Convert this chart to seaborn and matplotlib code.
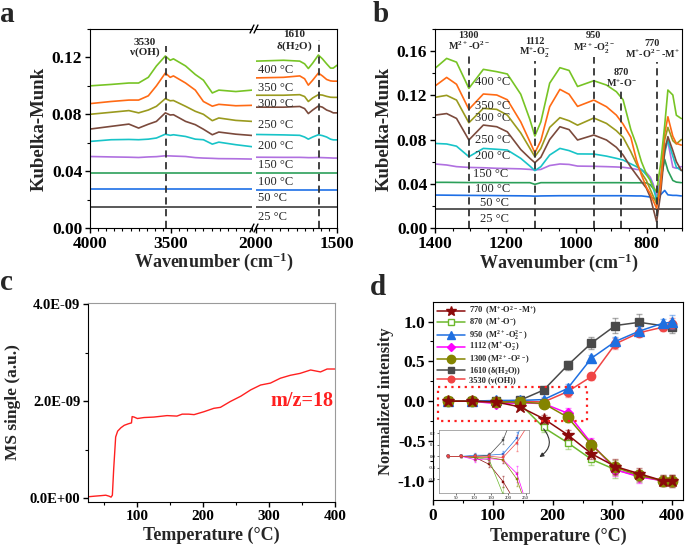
import matplotlib
matplotlib.use("Agg")
import matplotlib.pyplot as plt
import matplotlib.ticker as mticker
import seaborn as sns

sns.set_style("ticks")
plt.rcParams['font.family'] = ['Liberation Serif', 'DejaVu Serif']
plt.rcParams['font.weight'] = 'bold'
plt.rcParams['axes.labelweight'] = 'bold'
plt.rcParams['axes.unicode_minus'] = False
plt.rcParams['mathtext.fontset'] = 'custom'
plt.rcParams['mathtext.rm'] = 'Liberation Serif'
plt.rcParams['mathtext.default'] = 'regular'
plt.rcParams['axes.edgecolor'] = 'black'
plt.rcParams['xtick.color'] = 'black'
plt.rcParams['ytick.color'] = 'black'

# ---------------- data ----------------
temps = ["25", "50", "100", "150", "200", "250", "300", "350", "400"]
colors = ["#3c3c3c", "#1e6fe6", "#2ca05a", "#b070e0", "#18c4c8",
          "#7b4a3c", "#9a9a1e", "#ff6a14", "#77c425"]

# panel a, 4000-3000 cm-1
wn_oh = [4000, 3870, 3760, 3700, 3640, 3590, 3535, 3505, 3485, 3410, 3350, 3300, 3245, 3205, 3100, 3000]
a_oh_25 = [0.0150] * 16
a_oh_50 = [0.0273] * 16
a_oh_100 = [0.0390] * 16
a_oh_150 = [0.0503, 0.0500, 0.0498, 0.0496, 0.0500, 0.0502, 0.0508, 0.0507, 0.0506, 0.0503, 0.0495, 0.0492, 0.0490, 0.0488, 0.0487, 0.0485]
a_oh_200 = [0.0609, 0.0621, 0.0623, 0.0621, 0.0625, 0.0633, 0.0660, 0.0652, 0.0656, 0.0644, 0.0625, 0.0621, 0.0590, 0.0604, 0.0586, 0.0572]
a_oh_250 = [0.0696, 0.0715, 0.0731, 0.0703, 0.0730, 0.0750, 0.0810, 0.0795, 0.0797, 0.0750, 0.0727, 0.0695, 0.0656, 0.0675, 0.0660, 0.0651]
a_oh_300 = [0.0800, 0.0814, 0.0826, 0.0810, 0.0830, 0.0856, 0.0910, 0.0895, 0.0897, 0.0856, 0.0821, 0.0800, 0.0755, 0.0774, 0.0757, 0.0750]
a_oh_350 = [0.0875, 0.0890, 0.0900, 0.0900, 0.0930, 0.1000, 0.1090, 0.1060, 0.1070, 0.1020, 0.0970, 0.0890, 0.0857, 0.0870, 0.0860, 0.0863]
a_oh_400 = [0.1000, 0.1010, 0.1020, 0.1020, 0.1060, 0.1140, 0.1210, 0.1180, 0.1190, 0.1140, 0.1080, 0.1040, 0.0950, 0.0970, 0.0960, 0.0970]

# panel a, 2000-1500 cm-1
wn_hoh = [2000, 1830, 1730, 1700, 1677, 1650, 1615, 1590, 1564, 1540, 1523, 1500]
a_hoh_25 = [0.0150] * 12
a_hoh_50 = [0.0270] * 12
a_hoh_100 = [0.0388] * 12
a_hoh_150 = [0.0498, 0.0497, 0.0497, 0.0496, 0.0495, 0.0495, 0.0496, 0.0495, 0.0494, 0.0493, 0.0492, 0.0492]
a_hoh_200 = [0.0658, 0.0655, 0.0652, 0.0640, 0.0625, 0.0640, 0.0656, 0.0650, 0.0640, 0.0625, 0.0620, 0.0620]
a_hoh_250 = [0.0850, 0.0850, 0.0855, 0.0840, 0.0805, 0.0830, 0.0858, 0.0850, 0.0830, 0.0820, 0.0810, 0.0810]
a_hoh_300 = [0.0934, 0.0934, 0.0938, 0.0925, 0.0890, 0.0915, 0.0938, 0.0935, 0.0926, 0.0920, 0.0919, 0.0919]
a_hoh_350 = [0.1056, 0.1060, 0.1070, 0.1050, 0.1005, 0.1040, 0.1090, 0.1070, 0.1045, 0.1035, 0.1033, 0.1033]
a_hoh_400 = [0.1174, 0.1180, 0.1174, 0.1155, 0.1122, 0.1160, 0.1217, 0.1190, 0.1155, 0.1125, 0.1125, 0.1145]

# panel b, 1400-700 cm-1
wn_b = [1400, 1367, 1339, 1304, 1263, 1225, 1195, 1157, 1131, 1117, 1100, 1075, 1046, 1020, 996, 950,
        914, 886, 867, 845, 829, 815, 801, 790, 782, 772, 761, 749, 740, 726, 716, 702]
b_25 = [0.0169] * 32
b_50 = [0.0298, 0.0297, 0.0296, 0.0295, 0.0294, 0.0293, 0.0292, 0.0291, 0.0290, 0.0288, 0.0290, 0.0291, 0.0292, 0.0292, 0.0292, 0.0292,
        0.0292, 0.0292, 0.0292, 0.0291, 0.0290, 0.0290, 0.0285, 0.0280, 0.0270, 0.0260, 0.0300, 0.0340, 0.0300, 0.0295, 0.0295, 0.0290]
b_100 = [0.0413, 0.0413, 0.0412, 0.0411, 0.0411, 0.0411, 0.0410, 0.0410, 0.0410, 0.0395, 0.0410, 0.0410, 0.0410, 0.0410, 0.0410, 0.0410,
         0.0410, 0.0410, 0.0410, 0.0409, 0.0409, 0.0409, 0.0408, 0.0390, 0.0360, 0.0300, 0.0430, 0.0620, 0.0520, 0.0430, 0.0415, 0.0410]
b_150 = [0.0579, 0.0570, 0.0555, 0.0548, 0.0545, 0.0540, 0.0538, 0.0535, 0.0530, 0.0525, 0.0530, 0.0565, 0.0579, 0.0575, 0.0560, 0.0558,
         0.0555, 0.0552, 0.0549, 0.0540, 0.0530, 0.0525, 0.0500, 0.0460, 0.0400, 0.0283, 0.0450, 0.0750, 0.0780, 0.0550, 0.0540, 0.0555]
b_200 = [0.0765, 0.0760, 0.0740, 0.0645, 0.0720, 0.0712, 0.0705, 0.0630, 0.0560, 0.0519, 0.0555, 0.0660, 0.0720, 0.0700, 0.0670, 0.0669,
         0.0650, 0.0630, 0.0615, 0.0580, 0.0555, 0.0530, 0.0480, 0.0440, 0.0370, 0.0253, 0.0400, 0.0680, 0.0796, 0.0650, 0.0550, 0.0520]
b_250 = [0.1021, 0.1035, 0.0991, 0.0796, 0.0931, 0.0916, 0.0870, 0.0710, 0.0630, 0.0591, 0.0640, 0.0800, 0.0916, 0.0890, 0.0796, 0.0841,
         0.0796, 0.0730, 0.0660, 0.0550, 0.0480, 0.0420, 0.0360, 0.0280, 0.0180, 0.0057, 0.0300, 0.0700, 0.0826, 0.0700, 0.0600, 0.0520]
b_300 = [0.1182, 0.1200, 0.1157, 0.0952, 0.1082, 0.1073, 0.1021, 0.0860, 0.0720, 0.0645, 0.0720, 0.0910, 0.0998, 0.0970, 0.0930, 0.0995,
         0.0946, 0.0880, 0.0820, 0.0690, 0.0580, 0.0500, 0.0430, 0.0350, 0.0290, 0.0220, 0.0400, 0.0800, 0.0910, 0.0790, 0.0760, 0.0800]
b_350 = [0.1284, 0.1362, 0.1300, 0.1073, 0.1212, 0.1203, 0.1160, 0.0960, 0.0780, 0.0680, 0.0790, 0.1097, 0.1254, 0.1210, 0.1100, 0.1157,
         0.1097, 0.1021, 0.0940, 0.0820, 0.0615, 0.0480, 0.0370, 0.0310, 0.0250, 0.0178, 0.0370, 0.0856, 0.1006, 0.0830, 0.0765, 0.0750]
b_400 = [0.1444, 0.1534, 0.1500, 0.1263, 0.1435, 0.1414, 0.1393, 0.1210, 0.0980, 0.0832, 0.0960, 0.1310, 0.1450, 0.1425, 0.1280, 0.1332,
         0.1293, 0.1233, 0.1160, 0.0890, 0.0750, 0.0600, 0.0490, 0.0430, 0.0370, 0.0330, 0.0570, 0.0930, 0.1248, 0.1203, 0.1020, 0.0990]

# panel c, MS m/z=18
ms_temp = [27, 35, 44, 52, 57, 60, 62, 64, 67, 70, 75, 80, 86, 91, 92, 95, 100, 110, 125, 145, 160, 168, 178, 186,
           201, 216, 226, 241, 257, 272, 287, 302, 317, 332, 347, 363, 378, 388, 400]
ms_signal = [0.03, 0.04, 0.05, 0.06, 0.04, 0.02, 0.06, 0.60, 1.26, 1.38, 1.45, 1.50, 1.53, 1.55, 1.68, 1.67, 1.64, 1.66,
             1.67, 1.70, 1.69, 1.73, 1.73, 1.72, 1.78, 1.85, 1.87, 1.99, 2.10, 2.23, 2.33, 2.37, 2.47, 2.53, 2.57, 2.64,
             2.60, 2.66, 2.66]

# panel d, normalized intensity
t_d = [25, 65, 105, 145, 185, 225, 265, 305, 345, 385, 400]
t_1610 = [25, 65, 105, 145, 185, 225, 265, 305, 345, 400]
d_770 = [0, 0, -0.01, -0.07, -0.22, -0.42, -0.66, -0.82, -0.91, -1.0, -1.0]
d_870 = [0, 0, -0.01, -0.03, -0.33, -0.52, -0.73, -0.86, -0.94, -1.0, -1.0]
d_950 = [0, 0, 0.01, 0.01, 0.02, 0.16, 0.54, 0.75, 0.88, 0.98, 0.99]
d_1112 = [0, 0, -0.03, -0.02, -0.03, -0.15, -0.53, -0.86, -0.95, -1.0, -1.0]
d_1300 = [0, 0, -0.01, -0.01, -0.03, -0.20, -0.55, -0.83, -0.93, -1.0, -1.0]
d_1610 = [0, 0, 0, 0.01, 0.14, 0.45, 0.73, 0.95, 0.99, 0.93]
d_3530 = [0, 0, 0, 0, -0.01, 0.12, 0.31, 0.72, 0.86, 0.93, 0.97]
e_770 = [0.01, 0.01, 0.02, 0.02, 0.05, 0.06, 0.06, 0.09, 0.07, 0.06, 0.07]
e_870 = [0.01, 0.01, 0.02, 0.03, 0.06, 0.08, 0.07, 0.10, 0.08, 0.07, 0.08]
e_950 = [0.01, 0.01, 0.02, 0.02, 0.03, 0.05, 0.04, 0.06, 0.06, 0.05, 0.09]
e_1112 = [0.01, 0.01, 0.02, 0.02, 0.03, 0.07, 0.07, 0.08, 0.08, 0.07, 0.08]
e_1300 = [0.01, 0.01, 0.02, 0.02, 0.03, 0.06, 0.06, 0.09, 0.07, 0.07, 0.08]
e_1610 = [0.01, 0.01, 0.02, 0.02, 0.03, 0.06, 0.07, 0.09, 0.10, 0.08]
e_3530 = [0.01, 0.01, 0.02, 0.02, 0.03, 0.07, 0.05, 0.07, 0.06, 0.05, 0.07]

W, H = 685, 548
TICK = 12.5


def box(l, t, r, b):
    return [l / W, 1 - b / H, (r - l) / W, (b - t) / H]


fig = plt.figure(figsize=(W / 100, H / 100), dpi=100)

# ---------------- panel a ----------------
axL = fig.add_axes(box(90, 29, 252, 228))
axR = fig.add_axes(box(256, 29, 337, 228))
oh_curves = [a_oh_25, a_oh_50, a_oh_100, a_oh_150, a_oh_200, a_oh_250, a_oh_300, a_oh_350, a_oh_400]
hoh_curves = [a_hoh_25, a_hoh_50, a_hoh_100, a_hoh_150, a_hoh_200, a_hoh_250, a_hoh_300, a_hoh_350, a_hoh_400]
for c, y1, y2 in zip(colors, oh_curves, hoh_curves):
    sns.lineplot(x=wn_oh, y=y1, ax=axL, color=c, lw=1.2, sort=False)
    sns.lineplot(x=wn_hoh, y=y2, ax=axR, color=c, lw=1.2, sort=False)

for ax in (axL, axR):
    ax.set_ylim(0, 0.14)
    ax.tick_params(labelsize=TICK, length=3.5, width=1, pad=2)
    ax.tick_params(which='minor', length=2, width=0.8)
    ax.set_xlabel('')
    ax.set_ylabel('')
axL.set_xlim(4000, 3000)
axR.set_xlim(2000, 1500)
axL.set_xticks([4000, 3500])
axL.xaxis.set_minor_locator(mticker.MultipleLocator(50))
axR.set_xticks([2000, 1500])
axR.xaxis.set_minor_locator(mticker.MultipleLocator(50))
axL.set_yticks([0, 0.04, 0.08, 0.12])
axL.yaxis.set_minor_locator(mticker.MultipleLocator(0.02))
axL.yaxis.set_major_formatter(mticker.FormatStrFormatter('%.2f'))
axL.spines['right'].set_visible(False)
axR.spines['left'].set_visible(False)
axR.tick_params(axis='y', which='both', left=False, labelleft=False)
axL.set_ylabel('Kubelka-Munk', fontsize=13.5, labelpad=3)

# break marks
for ax, xb, k in ((axL, 1.0, 1), (axR, 0.0, 2)):
    for yb in (0.0, 1.0):
        ax.plot([xb - 0.012 * k, xb + 0.012 * k], [yb - 0.02, yb + 0.02],
                transform=ax.transAxes, color='k', lw=1, clip_on=False)

axL.vlines(3530, 0, 0.128, colors='#333333', linestyles=(0, (4, 2.5)), lw=1.3)
axR.vlines(1610, 0, 0.132, colors='#333333', linestyles=(0, (4, 2.5)), lw=1.3)
axL.text(3660, 0.120, '3530\nν(OH)', ha='center', va='bottom', fontsize=8, linespacing=1.05)
axR.text(1765, 0.123, '1610\nδ(H$_2$O)', ha='center', va='bottom', fontsize=8, linespacing=1.05)

a_label_y = [0.0080, 0.0210, 0.0327, 0.0445, 0.0574, 0.0727, 0.0873, 0.0986, 0.1110]
for t, y in zip(temps, a_label_y):
    axR.text(1986, y, f'{t} °C', ha='left', va='center', fontsize=9, fontweight='normal')

fig.text(213.5 / W, 1 - 262 / H, 'Wavenumber (cm$^{-1}$)', ha='center', va='center', fontsize=13)

# ---------------- panel b ----------------
axb = fig.add_axes(box(435, 29, 682, 228))
b_curves = [b_25, b_50, b_100, b_150, b_200, b_250, b_300, b_350, b_400]
for c, y in zip(colors, b_curves):
    sns.lineplot(x=wn_b, y=y, ax=axb, color=c, lw=1.2, sort=False)
axb.set_xlim(1400, 700)
axb.set_ylim(0, 0.18)
axb.set_xticks([1400, 1200, 1000, 800])
axb.xaxis.set_minor_locator(mticker.MultipleLocator(50))
axb.set_yticks([0, 0.04, 0.08, 0.12, 0.16])
axb.yaxis.set_minor_locator(mticker.MultipleLocator(0.02))
axb.yaxis.set_major_formatter(mticker.FormatStrFormatter('%.2f'))
axb.tick_params(labelsize=TICK, length=3.5, width=1, pad=2)
axb.tick_params(which='minor', length=2, width=0.8)
axb.set_xlabel('Wavenumber (cm$^{-1}$)', fontsize=13, labelpad=0)
axb.set_ylabel('Kubelka-Munk', fontsize=13.5, labelpad=3)

# (line position, line top, text x, text anchor, text y, text)
b_marks = [(1304, 0.157, 1304, 'center', 0.159, '1300\nM$^{2+}$-O$^{2-}$'),
           (1117, 0.151, 1117, 'center', 0.152, '1112\nM$^{+}$-O$_2^{-}$'),
           (950, 0.155, 950, 'center', 0.156, '950\nM$^{2+}$-O$_2^{2-}$'),
           (872, 0.124, 872, 'center', 0.126, '870\nM$^{+}$-O$^{-}$'),
           (772, 0.150, 706, 'right', 0.152, '770\nM$^{+}$-O$^{2-}$-M$^{+}$')]
for x, top, tx, ha, ty, s in b_marks:
    axb.vlines(x, 0, top, colors='#333333', linestyles=(0, (4, 2.5)), lw=1.3)
    axb.text(tx, ty, s, ha=ha, va='bottom', fontsize=7.3, linespacing=1.0, multialignment='center')

b_label_y = [0.0081, 0.0229, 0.0350, 0.0485, 0.0651, 0.0796, 0.0997, 0.1099, 0.1323]
b_label_x = [1273, 1273, 1287, 1292, 1287, 1287, 1287, 1287, 1287]
for t, x, y in zip(temps, b_label_x, b_label_y):
    axb.text(x, y, f'{t} °C', ha='left', va='center', fontsize=9, fontweight='normal')

# ---------------- panel c ----------------
axc = fig.add_axes(box(88, 303, 335, 502))
sns.lineplot(x=ms_temp, y=[v * 1e-9 for v in ms_signal], ax=axc, color='#ff2020', lw=1.0, sort=False)
axc.set_xlim(25, 400)
axc.set_ylim(-0.08e-9, 4.02e-9)
axc.set_xticks([100, 200, 300, 400])
axc.xaxis.set_minor_locator(mticker.MultipleLocator(50))
axc.set_yticks([0, 2e-9, 4e-9])
axc.yaxis.set_minor_locator(mticker.MultipleLocator(1e-9))
axc.yaxis.set_major_formatter(mticker.FuncFormatter(lambda v, p: f'{v:.1E}'))
axc.tick_params(axis='y', labelsize=10.5, length=3.5, width=1, pad=2)
axc.tick_params(axis='x', labelsize=11, length=3.5, width=1, pad=2)
axc.tick_params(which='minor', length=2, width=0.8)
for s in ('top', 'right'):
    axc.spines[s].set_color('#9a9a9a')
axc.set_xlabel('Temperature (°C)', fontsize=13, labelpad=3)
axc.set_ylabel('MS single (a.u.)', fontsize=12.5, labelpad=6)
axc.text(397, 2.0e-9, 'm/z=18', color='#ff2020', ha='right', va='center', fontsize=14.5)

# ---------------- panel d ----------------
axd = fig.add_axes(box(433, 302, 683, 500))
series = [
    ('770  (M$^{+}$-O$^{2-}$-M$^{+}$)', t_d, d_770, e_770, '#8b0a0a', '*', 9, '#8b0a0a'),
    ('870  (M$^{+}$-O$^{-}$)', t_d, d_870, e_870, '#6cb82c', 's', 5, 'white'),
    ('950  (M$^{2+}$-O$_2^{2-}$)', t_d, d_950, e_950, '#1f6fe0', '^', 6.5, '#1f6fe0'),
    ('1112 (M$^{+}$-O$_2^{-}$)', t_d, d_1112, e_1112, '#ff00ff', 'D', 5.5, '#ff00ff'),
    ('1300 (M$^{2+}$-O$^{2-}$)', t_d, d_1300, e_1300, '#848400', 'o', 7.5, '#848400'),
    ('1610 (δ(H$_2$O))', t_1610, d_1610, e_1610, '#4a4a4a', 's', 5.5, '#4a4a4a'),
    ('3530 (ν(OH))', t_d, d_3530, e_3530, '#f04545', 'o', 6, '#f04545'),
]
zorders = [6, 3, 5, 4, 5, 3, 4]
for (lab, tx, vals, err, c, m, ms, fc), z in zip(series, zorders):
    axd.errorbar(tx, vals, yerr=err, fmt='none', ecolor=c, alpha=0.45, elinewidth=0.9, capsize=2, zorder=z - 1)
    sns.lineplot(x=tx, y=vals, ax=axd, color=c, lw=1.1, marker=m, markersize=ms,
                 markerfacecolor=fc, markeredgecolor=c, markeredgewidth=1.0, label=lab, zorder=z, sort=False)
axd.set_xlim(0, 418)
axd.set_ylim(-1.24, 1.245)
axd.set_xticks([0, 100, 200, 300, 400])
axd.xaxis.set_minor_locator(mticker.MultipleLocator(50))
axd.set_yticks([-1.0, -0.5, 0.0, 0.5, 1.0])
axd.yaxis.set_minor_locator(mticker.MultipleLocator(0.25))
axd.yaxis.set_major_formatter(mticker.FormatStrFormatter('%.1f'))
axd.tick_params(labelsize=TICK, length=3.5, width=1, pad=2)
axd.tick_params(which='minor', length=2, width=0.8)
axd.set_xlabel('Temperature (°C)', fontsize=13, labelpad=3)
axd.set_ylabel('Normalized intensity', fontsize=12, labelpad=3)
leg = axd.legend(loc='upper left', bbox_to_anchor=(-0.005, 1.012), frameon=False, fontsize=6,
                 handlelength=3.4, labelspacing=-0.1, handletextpad=0.5, borderaxespad=0.2,
                 markerscale=0.8)
leg.set_zorder(8)

# dotted zoom box and arrow
axd.plot([9, 258, 258, 9, 9], [0.18, 0.18, -0.245, -0.245, 0.18], color='#ff2020', lw=1.6,
         ls=(0, (1, 2)), zorder=7)
axd.annotate('', xy=(174, -0.72), xytext=(182, -0.32),
             arrowprops=dict(arrowstyle='-|>', color='#333333', lw=0.8, mutation_scale=6,
                             connectionstyle='arc3,rad=-0.6'))

# inset
axi = fig.add_axes(box(439, 430, 529, 493))
for (lab, tx, vals, err, c, m, ms, fc), z in zip(series, zorders):
    axi.errorbar(tx, vals, yerr=err, fmt='none', ecolor=c, alpha=0.5, elinewidth=0.5, capsize=0.8)
    sns.lineplot(x=tx, y=vals, ax=axi, color=c, lw=0.5, marker='s', markersize=1.6,
                 markerfacecolor=c, markeredgecolor=c, markeredgewidth=0.3, sort=False)
axi.set_xlim(0, 260)
axi.set_ylim(-0.32, 0.23)
axi.set_xticks([50, 100, 150, 200, 250])
axi.set_yticks([-0.2, -0.1, 0.0, 0.1, 0.2])
axi.yaxis.set_major_formatter(mticker.FormatStrFormatter('%.1f'))
axi.tick_params(labelsize=3.3, length=1.2, width=0.4, pad=1)
for lbl in axi.get_xticklabels() + axi.get_yticklabels():
    lbl.set_fontweight('normal')
for s in axi.spines.values():
    s.set_linewidth(0.5)
    s.set_color('#888888')
axi.set_facecolor('white')

# panel letters
fig.text(0 / W, 1 - 22 / H, 'a', fontsize=21, va='baseline')
fig.text(373 / W, 1 - 22 / H, 'b', fontsize=21, va='baseline')
fig.text(0 / W, 1 - 290 / H, 'c', fontsize=21, va='baseline')
fig.text(370 / W, 1 - 295 / H, 'd', fontsize=21, va='baseline')

fig.savefig('out.png', dpi=100)
